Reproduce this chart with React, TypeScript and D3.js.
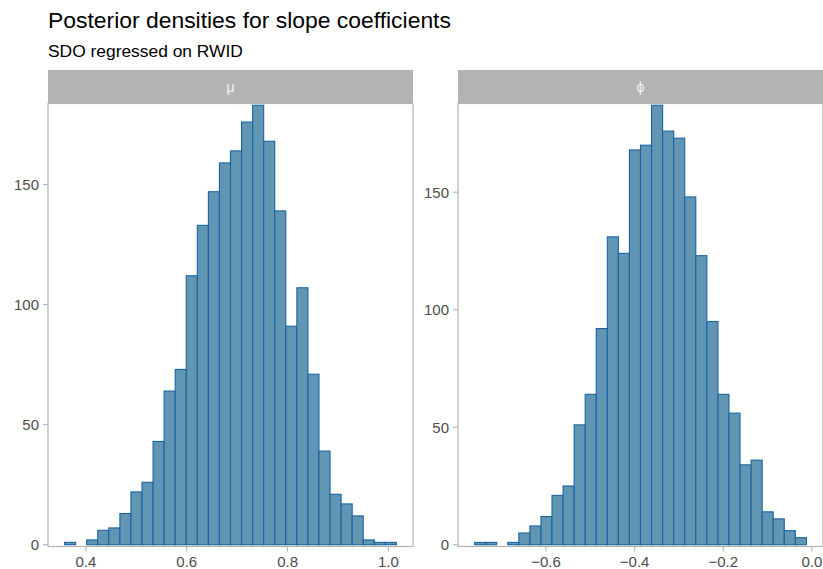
import React from 'react';
import * as d3 from 'd3';

// Histogram counts (30 bins per panel)
const muCounts = [1, 0, 2, 6, 7, 13, 22, 26, 43, 64, 73, 112, 133, 147, 159, 164, 176, 183, 168, 139, 91, 107, 71, 39, 21, 17, 12, 2, 1, 1];
const phiCounts = [1, 1, 0, 1, 5, 8, 12, 21, 25, 51, 64, 92, 131, 124, 168, 170, 187, 176, 173, 148, 123, 95, 64, 56, 34, 36, 14, 11, 6, 3];

// bin starts and widths (coefficient units)
const muBinStart = 0.3577;
const muBinWidth = 0.02194;
const phiBinStart = -0.7613;
const phiBinWidth = 0.02497;

const muTicks = [0.4, 0.6, 0.8, 1.0];
const phiTicks = [-0.6, -0.4, -0.2, 0.0];
const yTicks = [0, 50, 100, 150];

const panels = [
  { label: 'μ', counts: muCounts, start: muBinStart, width: muBinWidth, xTicks: muTicks },
  { label: 'ϕ', counts: phiCounts, start: phiBinStart, width: phiBinWidth, xTicks: phiTicks },
];

const W = 823;
const H = 569;
const panelW = 365;
const panelX = [48, 458];
const stripTop = 70;
const panelTop = 103.5;
const panelBottom = 546.5;
const grey = '#b3b3b3';
const textCol = '#4d4d4d';
const fmt = (v: number) => (v === 0 ? '0.0' : d3.format('.1f')(v)).replace('-', '\u2212');

function Panel({ p, x0 }: { p: typeof panels[0]; x0: number }) {
  const lo = p.start;
  const hi = p.start + p.width * p.counts.length;
  const pad = (hi - lo) * 0.05;
  const x = d3.scaleLinear().domain([lo - pad, hi + pad]).range([x0, x0 + panelW]);
  const maxC = d3.max(p.counts) as number;
  const y = d3.scaleLinear().domain([-maxC * 0.004, maxC * 1.004]).range([panelBottom, panelTop]);
  return (
    <g>
      <rect x={x0} y={stripTop} width={panelW} height={panelTop - stripTop} fill={grey} />
      <text x={x0 + panelW / 2} y={(stripTop + panelTop) / 2 + 5} textAnchor="middle" fill="#f2f2f2" fontSize={14}>
        {p.label}
      </text>
      <rect x={x0} y={panelTop} width={panelW} height={panelBottom - panelTop} fill="white" stroke={grey} strokeWidth={1.2} />
      {p.counts.map((c, i) => {
        const a = p.start + i * p.width;
        return (
          <rect
            key={i}
            x={x(a)}
            y={y(c)}
            width={x(a + p.width) - x(a)}
            height={y(0) - y(c)}
            fill="#6096b4"
            stroke="#1a64a0"
            strokeWidth={1.1}
          />
        );
      })}
      {yTicks.map((t) => (
        <g key={t}>
          <line x1={x0 - 5} x2={x0} y1={y(t)} y2={y(t)} stroke={grey} strokeWidth={1.1} />
          <text x={x0 - 9} y={y(t) + 5.4} textAnchor="end" fill={textCol} fontSize={15}>
            {t}
          </text>
        </g>
      ))}
      {p.xTicks.map((t) => (
        <g key={t}>
          <line x1={x(t)} x2={x(t)} y1={panelBottom} y2={panelBottom + 5} stroke={grey} strokeWidth={1.1} />
          <text x={x(t)} y={panelBottom + 20.5} textAnchor="middle" fill={textCol} fontSize={15}>
            {fmt(t)}
          </text>
        </g>
      ))}
    </g>
  );
}

export default function App() {
  return (
    <svg width={W} height={H} style={{ position: 'absolute', left: 0, top: 0 }} fontFamily="Liberation Sans, Arial, sans-serif">
      <rect width={W} height={H} fill="white" />
      <text x={48} y={28} fontSize={22.9} fill="black">Posterior densities for slope coefficients</text>
      <text x={48} y={57} fontSize={17.4} fill="black">SDO regressed on RWID</text>
      {panels.map((p, i) => (
        <Panel key={p.label} p={p} x0={panelX[i]} />
      ))}
    </svg>
  );
}
